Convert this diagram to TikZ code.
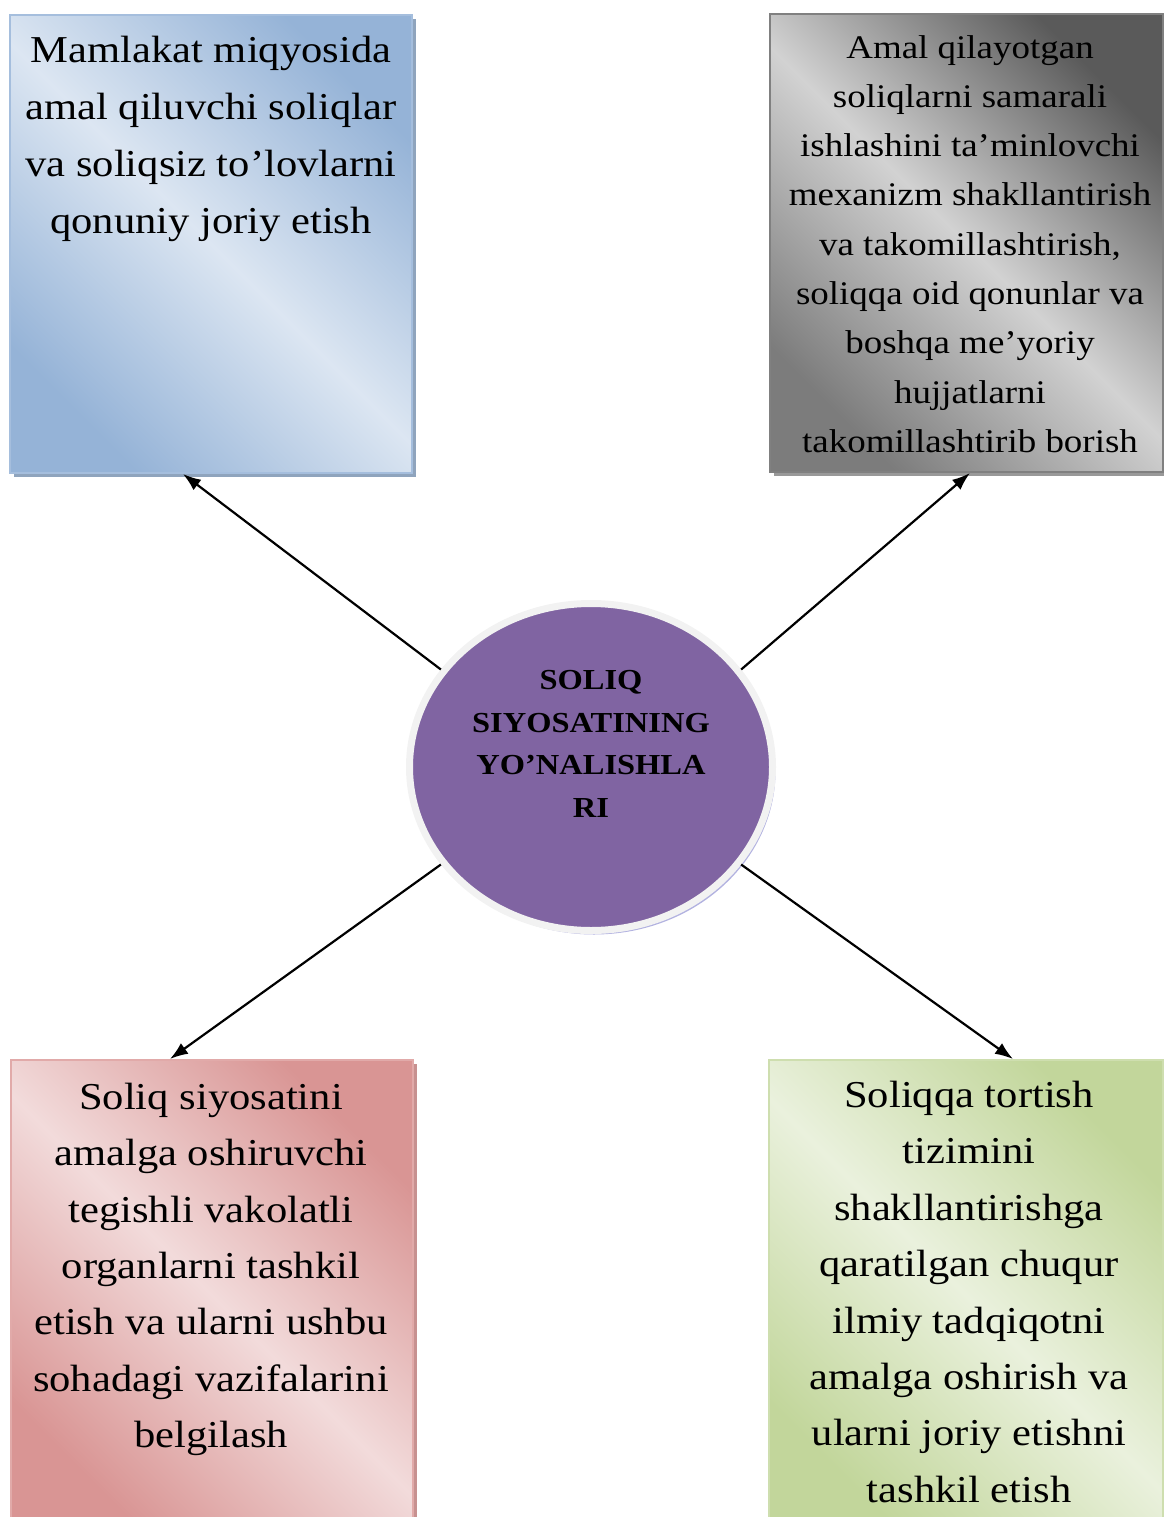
\documentclass[tikz,border=0pt]{standalone}
\usepackage{fontspec}
\setmainfont[FakeStretch=1.12]{Liberation Serif}
\usetikzlibrary{arrows.meta, positioning, shapes.geometric, shadows, calc}

\definecolor{bluedk}{HTML}{95B3D7}
\definecolor{bluelt}{HTML}{DCE6F2}
\definecolor{graydk}{HTML}{5A5A5A}
\definecolor{graymd}{HTML}{7C7C7C}
\definecolor{graylt}{HTML}{D2D2D2}
\definecolor{pinkdk}{HTML}{D99594}
\definecolor{pinklt}{HTML}{F2DBDB}
\definecolor{greendk}{HTML}{C2D69B}
\definecolor{greenlt}{HTML}{EAF1DD}
\definecolor{hubfill}{HTML}{8064A2}

\begin{document}
\begin{tikzpicture}[x=1pt, y=-1pt,
      box/.style={draw, line width=2pt, inner sep=0pt, minimum width=402pt, minimum height=458pt,
        drop shadow={shadow xshift=4pt, shadow yshift=-4pt, opacity=1, fill=#1}},
      shadebox/.style n args={3}{top color=#1, bottom color=#3, middle color=#2, shading angle=-45},
      txt/.style={align=center, anchor=north, inner sep=0pt, font=\fontsize{38}{57}\selectfont},
      hub/.style={ellipse, draw=black!5, line width=7pt, fill=hubfill, inner sep=0pt,
        minimum width=363pt, minimum height=327pt,
        drop shadow={shadow xshift=3pt, shadow yshift=-4pt, opacity=1, fill=black!40!blue!30!white}},
      arr/.style={-{Latex[length=18pt, width=13pt]}, line width=2.2pt}
    ]

    \useasboundingbox (0,0) rectangle (1163,1517);

    \node[box=bluedk!70!gray, draw=bluedk!85!white, shadebox={bluedk}{bluelt}{bluedk}] (tl) at (211,244) {};
    \node[box=gray!80, draw=gray, shadebox={graydk}{graylt}{graymd}, minimum width=393pt] (tr) at (966,243) {};
    \node[box=pinkdk!80!gray, draw=pinkdk!80!white, shadebox={pinkdk}{pinklt}{pinkdk}, minimum height=470pt] (bl) at (211.5,1295) {};
    \node[box=greendk!80!gray, draw=greendk!80!white, shadebox={greendk}{greenlt}{greendk}, minimum width=394pt, minimum height=470pt] (br) at (966,1295) {};

    \node[txt] (tl-txt) at (211,36) {Mamlakat miqyosida\\amal qiluvchi soliqlar\\va soliqsiz to’lovlarni\\qonuniy joriy etish};
    \node[txt, font=\fontsize{33}{49.3}\selectfont] (tr-txt) at (970,35) {Amal qilayotgan\\soliqlarni samarali\\ishlashini ta’minlovchi\\mexanizm shakllantirish\\va takomillashtirish,\\soliqqa oid qonunlar va\\boshqa me’yoriy\\hujjatlarni\\takomillashtirib borish};
    \node[txt, font=\fontsize{38}{56.3}\selectfont] (bl-txt) at (211,1083) {Soliq siyosatini\\amalga oshiruvchi\\tegishli vakolatli\\organlarni tashkil\\etish va ularni ushbu\\sohadagi vazifalarini\\belgilash};
    \node[txt, font=\fontsize{38}{56.4}\selectfont] (br-txt) at (969,1081) {Soliqqa tortish\\tizimini\\shakllantirishga\\qaratilgan chuqur\\ilmiy tadqiqotni\\amalga oshirish va\\ularni joriy etishni\\tashkil etish};

    \node[hub] (hub) at (591,767) {};
    \node[txt, font=\fontsize{29}{42.7}\selectfont\bfseries] (hub-txt) at (591,670) {SOLIQ\\SIYOSATINING\\YO’NALISHLA\\RI};

    \draw[arr] (hub.147) -- ([xshift=-28pt]tl.south);
    \draw[arr] (hub.33) -- ([xshift=4pt]tr.south);
    \draw[arr] (hub.213) -- ([xshift=-41.5pt]bl.north);
    \draw[arr] (hub.327) -- ([xshift=47pt]br.north);
  \end{tikzpicture}
\end{document}
